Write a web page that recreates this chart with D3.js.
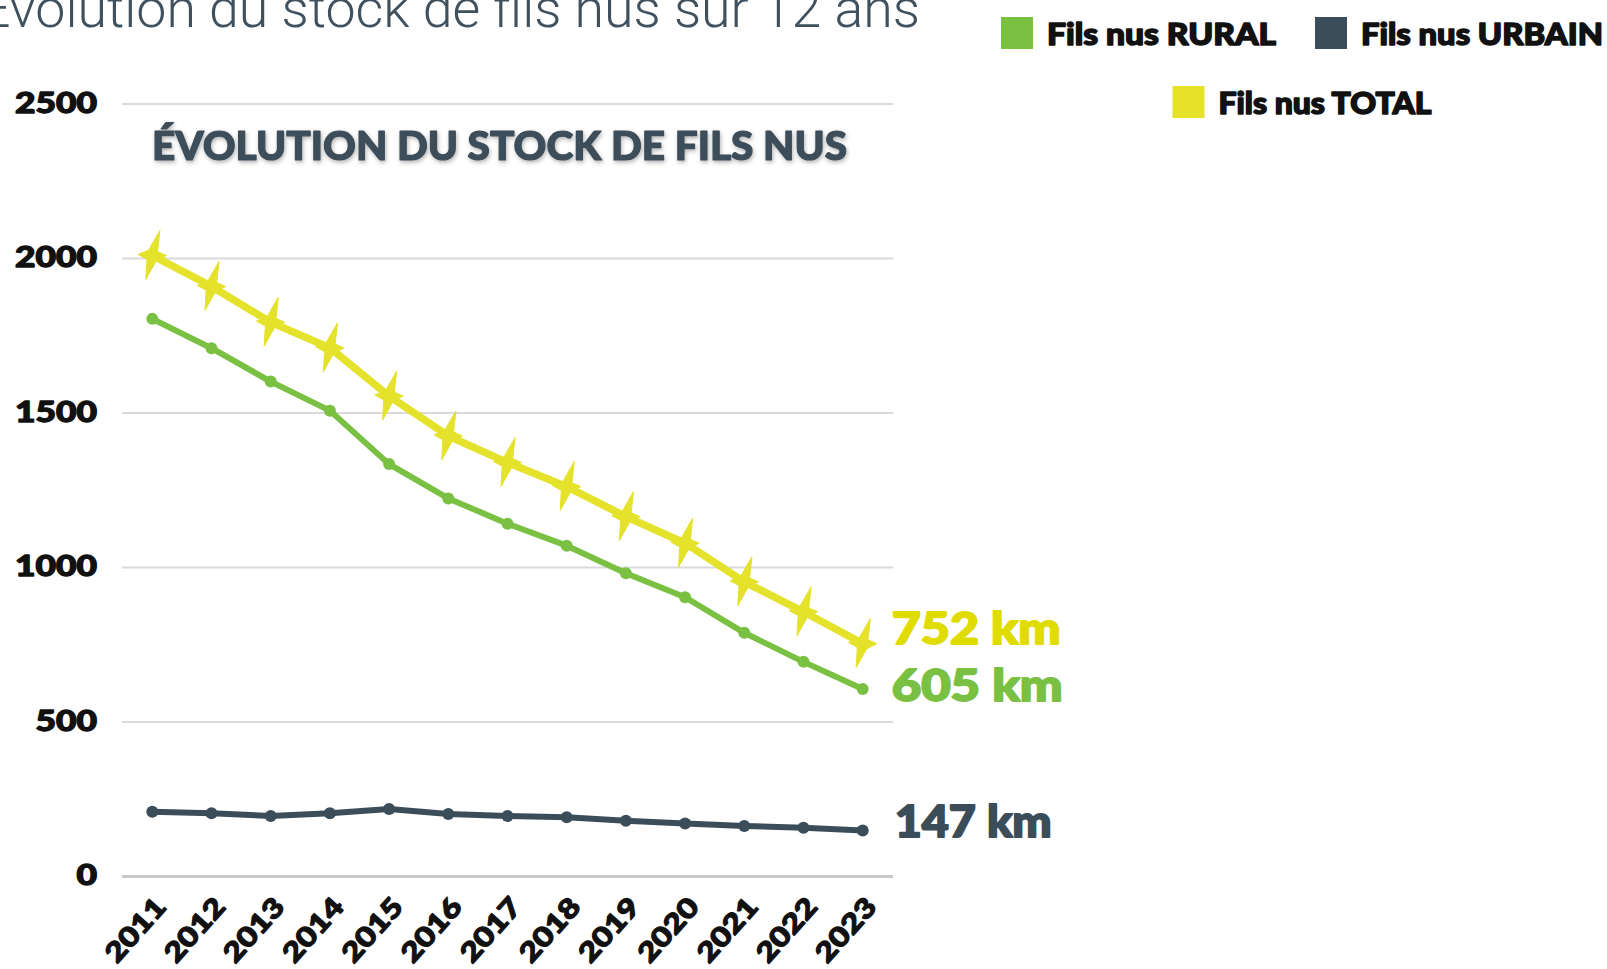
<!DOCTYPE html>
<html lang="fr">
<head>
<meta charset="utf-8">
<title>Évolution du stock de fils nus sur 12 ans</title>
<script src="https://cdn.jsdelivr.net/npm/d3@7"></script>
<style>
  html, body { margin: 0; padding: 0; background: #ffffff; overflow: hidden; }
  svg { display: block; }
  .heavy { font-family: "Lato", "Roboto", "DejaVu Sans", sans-serif; font-weight: 900; stroke-linejoin: round; }
</style>
</head>
<body>
<svg id="chart" width="1607" height="969"></svg>
<script>
// Stock de fils nus (km), 2011 → 2023
const years = ["2011","2012","2013","2014","2015","2016","2017","2018","2019","2020","2021","2022","2023"];
const rural = [1803, 1708, 1600, 1506, 1333, 1222, 1140, 1069, 980, 902, 787, 693, 605];
const urbain = [208, 203, 194, 203, 217, 201, 194, 190, 179, 170, 162, 156, 147];
const total = [2008, 1908, 1792, 1709, 1553, 1424, 1338, 1260, 1163, 1077, 952, 855, 752];
const yTicks = [0, 500, 1000, 1500, 2000, 2500];
const legendLabels = ["Fils nus RURAL", "Fils nus URBAIN", "Fils nus TOTAL"];
const unit = "km";

const COLORS = { rural: "#7ac143", urbain: "#3c4d5a", total: "#e5e22c", totalLabel: "#e1dc00" };

const svg = d3.select("#chart");

// heavy text: fill plus a matching outline to thicken the strokes
function heavy(sel, color, w) {
  sel.attr("class", "heavy")
    .style("fill", color)
    .style("stroke", color)
    .style("stroke-width", w);
}

// page heading (runs off the left edge)
svg.append("text")
  .attr("x", -20).attr("y", 27)
  .attr("textLength", 940).attr("lengthAdjust", "spacingAndGlyphs")
  .style("font-family", "Roboto, 'Open Sans', sans-serif")
  .style("font-weight", 300)
  .style("font-size", "54px")
  .style("fill", "#3f515e")
  .text("Évolution du stock de fils nus sur 12 ans");

// scales
const x = d3.scalePoint().domain(years).range([152.3, 862.7]);
const y = d3.scaleLinear().domain([0, 2500]).range([876, 103.5]);
const gridLeft = 122, gridRight = 893;

// y axis with full-width gridlines
const yAxis = svg.append("g")
  .attr("transform", `translate(${gridLeft},0)`)
  .call(d3.axisLeft(y).tickValues(yTicks).tickSize(-(gridRight - gridLeft)).tickPadding(25).tickFormat(d3.format("d")));
yAxis.select(".domain").remove();
yAxis.selectAll(".tick line")
  .attr("stroke", d => d === 0 ? "#c9c9c9" : "#dadada")
  .attr("stroke-width", d => d === 0 ? 3 : 2);
yAxis.selectAll(".tick text")
  .call(heavy, "#111", 1.3)
  .style("font-size", "28px")
  .attr("textLength", d => String(d).length * 20.5)
  .attr("lengthAdjust", "spacingAndGlyphs");

// x axis labels, rotated
const xAxis = svg.append("g")
  .attr("transform", `translate(0,${y(0)})`)
  .call(d3.axisBottom(x).tickSize(0).tickPadding(0));
xAxis.select(".domain").remove();
xAxis.selectAll(".tick text")
  .call(heavy, "#111", 1.2)
  .style("font-size", "27px")
  .attr("textLength", 76)
  .attr("lengthAdjust", "spacingAndGlyphs")
  .attr("text-anchor", "end")
  .attr("dy", 0)
  .attr("transform", "translate(15,32) rotate(-48)");

// inner chart title with soft shadow
const defs = svg.append("defs");
const f = defs.append("filter").attr("id", "softShadow").attr("x", "-5%").attr("y", "-30%").attr("width", "110%").attr("height", "160%");
f.append("feDropShadow").attr("dx", 1).attr("dy", 2).attr("stdDeviation", 2.2)
  .attr("flood-color", "#000").attr("flood-opacity", 0.3);

svg.append("text")
  .call(heavy, "#3c4d5a", 1.2)
  .attr("x", 152).attr("y", 160)
  .attr("textLength", 695).attr("lengthAdjust", "spacingAndGlyphs")
  .style("font-size", "40px")
  .attr("filter", "url(#softShadow)")
  .text("ÉVOLUTION DU STOCK DE FILS NUS");

// series
const line = d3.line().x((d, i) => x(years[i])).y(d => y(d));

function drawSeries(values, color, width) {
  svg.append("path")
    .datum(values)
    .attr("d", line)
    .attr("fill", "none")
    .attr("stroke", color)
    .attr("stroke-width", width)
    .attr("stroke-linejoin", "round")
    .attr("stroke-linecap", "round");
}

drawSeries(urbain, COLORS.urbain, 6);
drawSeries(rural, COLORS.rural, 6);
drawSeries(total, COLORS.total, 7.5);

// round markers
function drawDots(values, color, r) {
  svg.append("g").selectAll("circle")
    .data(values)
    .join("circle")
    .attr("cx", (d, i) => x(years[i]))
    .attr("cy", d => y(d))
    .attr("r", r)
    .attr("fill", color);
}
drawDots(urbain, COLORS.urbain, 6);
drawDots(rural, COLORS.rural, 6);

// four-pointed sparkle symbol: long slanted vertical spikes, short horizontal ones
const sparkle = {
  draw(ctx, size) {
    const k = Math.sqrt(size) / 22;
    const tips = [[7, -23], [13, 0], [-6, 22], [-13, -1]].map(p => [p[0] * k, p[1] * k]);
    const rIn = 6 * k;
    const unitv = p => { const l = Math.hypot(p[0], p[1]); return [p[0] / l, p[1] / l]; };
    tips.forEach((t, i) => {
      const n = tips[(i + 1) % tips.length];
      const a = unitv(t), b = unitv(n);
      const m = unitv([a[0] + b[0], a[1] + b[1]]);
      if (i === 0) ctx.moveTo(t[0], t[1]); else ctx.lineTo(t[0], t[1]);
      ctx.lineTo(m[0] * rIn, m[1] * rIn);
    });
    ctx.closePath();
  }
};

svg.append("g").selectAll("path")
  .data(total)
  .join("path")
  .attr("d", d3.symbol().type(sparkle).size(24 * 24))
  .attr("transform", (d, i) => `translate(${x(years[i])},${y(d)})`)
  .attr("fill", COLORS.total)
  .attr("stroke", COLORS.total)
  .attr("stroke-width", 1)
  .attr("stroke-linejoin", "round");

// end-of-line value labels
const last = years.length - 1;
const endLabels = [
  { v: total[last], color: COLORS.totalLabel, dy: 0, w: 169 },
  { v: rural[last], color: COLORS.rural, dy: 12, w: 171 },
  { v: urbain[last], color: COLORS.urbain, dy: 6, w: 157 }
];
svg.append("g").selectAll("text")
  .data(endLabels)
  .join("text")
  .attr("class", "heavy")
  .attr("x", (d, i) => x(years[last]) + (i === 2 ? 32 : 29))
  .attr("y", d => y(d.v) + d.dy)
  .attr("textLength", d => d.w).attr("lengthAdjust", "spacingAndGlyphs")
  .style("font-size", "43px")
  .style("fill", d => d.color)
  .style("stroke", d => d.color)
  .style("stroke-width", 1.8)
  .text(d => `${d.v} ${unit}`);

// legend
const legendItems = [
  { label: legendLabels[0], color: COLORS.rural, sx: 1001, sy: 17, tw: 229 },
  { label: legendLabels[1], color: COLORS.urbain, sx: 1315, sy: 17, tw: 242 },
  { label: legendLabels[2], color: "#e6e22a", sx: 1172.5, sy: 86, tw: 213 }
];
const lg = svg.append("g").selectAll("g").data(legendItems).join("g")
  .attr("transform", d => `translate(${d.sx},${d.sy})`);
lg.append("rect").attr("width", 32).attr("height", 32).attr("fill", d => d.color);
lg.append("text")
  .call(heavy, "#111", 1.5)
  .attr("x", 46).attr("y", 28)
  .attr("textLength", d => d.tw).attr("lengthAdjust", "spacingAndGlyphs")
  .style("font-size", "30px")
  .text(d => d.label);
</script>
</body>
</html>
